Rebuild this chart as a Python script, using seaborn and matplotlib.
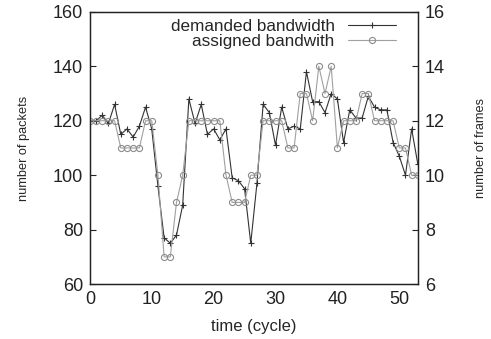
import numpy as np
import pandas as pd
import seaborn as sns
import matplotlib
matplotlib.use("Agg")
import matplotlib.pyplot as plt

# values
cycles = list(range(54))
demanded_packets = [120, 120, 122, 119, 126, 115, 117, 114, 118, 125,
                    117, 96, 77, 75, 78, 89, 128, 119, 126, 115,
                    117, 113, 117, 99, 98, 95, 75, 97, 126, 123,
                    111, 125, 117, 118, 117, 138, 127, 127, 123, 130,
                    128, 112, 124, 121, 121, 129, 125, 124, 124, 112,
                    107, 100, 117, 104]
assigned_frames = [12, 12, 12, 12, 12, 11, 11, 11, 11, 12,
                   12, 10, 7, 7, 9, 10, 12, 12, 12, 12,
                   12, 12, 10, 9, 9, 9, 10, 10, 12, 12,
                   12, 12, 11, 11, 13, 13, 12, 14, 13, 14,
                   11, 12, 12, 12, 13, 13, 12, 12, 12, 12,
                   11, 11, 10, 10]
x_ticks = [0, 10, 20, 30, 40, 50]
left_ticks = [60, 80, 100, 120, 140, 160]
right_ticks = [6, 8, 10, 12, 14, 16]

df = pd.DataFrame({"cycle": cycles, "demanded": demanded_packets,
                   "assigned": assigned_frames})

sns.set_style("white")
plt.rcParams["font.family"] = ["Liberation Sans", "DejaVu Sans"]

fig = plt.figure(figsize=(4.91, 3.39), dpi=100)
ax = fig.add_axes([0.183, 0.162, 0.668, 0.803])
ax2 = ax.twinx()

sns.lineplot(data=df, x="cycle", y="demanded", ax=ax, color="#333333",
             linewidth=0.8, marker="+", markersize=4.8, markeredgewidth=0.8,
             markeredgecolor="#333333",
             label="demanded bandwidth", legend=False)
sns.lineplot(data=df, x="cycle", y="assigned", ax=ax2, color="#a0a0a0",
             linewidth=0.8, marker="o", markersize=4.4, markerfacecolor="none",
             markeredgecolor="#8c8c8c", markeredgewidth=0.8,
             label="assigned bandwith", legend=False)

ax.set_xlim(0, 53)
ax.set_ylim(60, 160)
ax2.set_ylim(6, 16)
ax.set_xticks(x_ticks)
ax.set_yticks(left_ticks)
ax2.set_yticks(right_ticks)

ax.tick_params(direction="in", length=4, width=0.8, labelsize=13,
               colors="#222222", pad=5)
ax2.tick_params(direction="in", length=4, width=0.8, labelsize=13,
                colors="#222222", pad=5)
for a in (ax, ax2):
    for s in a.spines.values():
        s.set_linewidth(0.9)
        s.set_color("#222222")

ax.set_xlabel("time (cycle)", fontsize=12, labelpad=8)
ax.set_ylabel("number of packets", fontsize=9.2, labelpad=16)
ax2.set_ylabel("number of frames", fontsize=9.2, labelpad=22)

h1, l1 = ax.get_legend_handles_labels()
h2, l2 = ax2.get_legend_handles_labels()
ax2.legend(h1 + h2, l1 + l2, loc="upper right", bbox_to_anchor=(0.955, 1.0),
           frameon=False, markerfirst=False, fontsize=12.3, handlelength=2.8,
           labelspacing=0.0, borderaxespad=0.0, handletextpad=0.8)

fig.savefig("out.png", dpi=100)
